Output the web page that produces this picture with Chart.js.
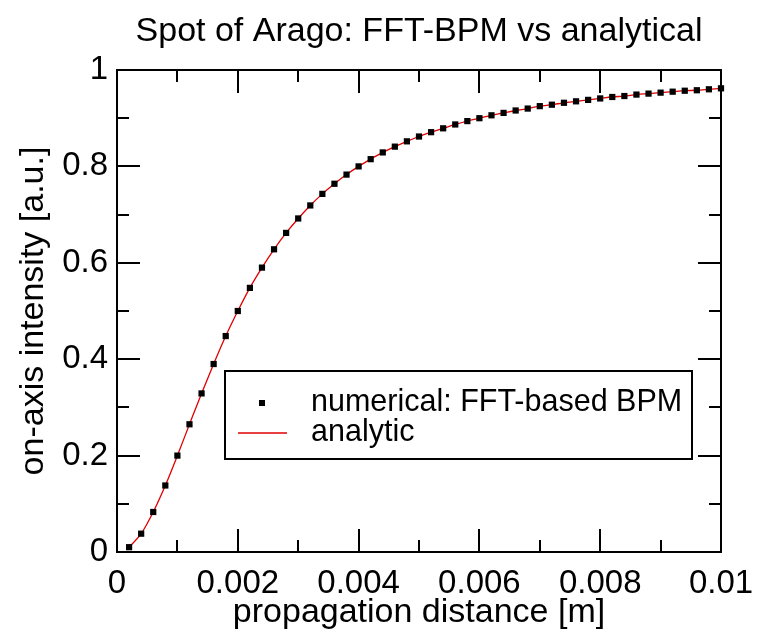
<!DOCTYPE html>
<html lang="en">
<head>
    <meta charset="UTF-8">
    <title>Spot of Arago</title>
    <script src="https://cdn.jsdelivr.net/npm/chart.js"></script>
    <style>
        html, body { margin: 0; padding: 0; background: #fff; }
        #wrap { width: 757px; height: 633px; }
    </style>
</head>
<body>
<div id="wrap"><canvas id="aragoChart" width="757" height="633"></canvas></div>
<script>
// propagation distance [m]
const distance = [
    0.0002, 0.0004, 0.0006, 0.0008, 0.0010, 0.0012, 0.0014, 0.0016, 0.0018, 0.0020,
    0.0022, 0.0024, 0.0026, 0.0028, 0.0030, 0.0032, 0.0034, 0.0036, 0.0038, 0.0040,
    0.0042, 0.0044, 0.0046, 0.0048, 0.0050, 0.0052, 0.0054, 0.0056, 0.0058, 0.0060,
    0.0062, 0.0064, 0.0066, 0.0068, 0.0070, 0.0072, 0.0074, 0.0076, 0.0078, 0.0080,
    0.0082, 0.0084, 0.0086, 0.0088, 0.0090, 0.0092, 0.0094, 0.0096, 0.0098, 0.0100
];
// numerical: FFT-based BPM
const numerical = [
    0.010, 0.038, 0.083, 0.138, 0.200, 0.265, 0.329, 0.390, 0.448, 0.500,
    0.548, 0.590, 0.628, 0.662, 0.692, 0.719, 0.743, 0.764, 0.783, 0.800,
    0.815, 0.829, 0.841, 0.852, 0.862, 0.871, 0.879, 0.887, 0.894, 0.900,
    0.906, 0.911, 0.916, 0.920, 0.925, 0.928, 0.932, 0.935, 0.938, 0.941,
    0.944, 0.946, 0.949, 0.951, 0.953, 0.955, 0.957, 0.958, 0.960, 0.962
];
// analytic
const analytic = [
    0.010, 0.038, 0.083, 0.138, 0.200, 0.265, 0.329, 0.390, 0.448, 0.500,
    0.548, 0.590, 0.628, 0.662, 0.692, 0.719, 0.743, 0.764, 0.783, 0.800,
    0.815, 0.829, 0.841, 0.852, 0.862, 0.871, 0.879, 0.887, 0.894, 0.900,
    0.906, 0.911, 0.916, 0.920, 0.925, 0.928, 0.932, 0.935, 0.938, 0.941,
    0.944, 0.946, 0.949, 0.951, 0.953, 0.955, 0.957, 0.958, 0.960, 0.962
];
const seriesNames = ['numerical: FFT-based BPM', 'analytic'];
const chartTitle = 'Spot of Arago: FFT-BPM vs analytical';

const FONT = '"Liberation Sans", Arial, Helvetica, sans-serif';

// title over the plot, frame + inward ticks on all four sides, legend box inside the plot
const frameAndLegend = {
    id: 'frameAndLegend',
    afterDraw(chart) {
        const ctx = chart.ctx;
        const a = chart.chartArea;
        const xs = chart.scales.x, ys = chart.scales.y;
        ctx.save();

        ctx.fillStyle = '#000';
        ctx.font = '34px ' + FONT;
        ctx.textAlign = 'center';
        ctx.textBaseline = 'middle';
        ctx.fillText(chartTitle, (a.left + a.right) / 2, 32);

        ctx.strokeStyle = '#000';
        ctx.lineWidth = 2;
        ctx.strokeRect(a.left, a.top, a.right - a.left, a.bottom - a.top);

        ctx.beginPath();
        xs.ticks.forEach(t => {
            const px = Math.round(xs.getPixelForValue(t.value));
            const len = t.label ? 23 : 12;
            ctx.moveTo(px, a.bottom); ctx.lineTo(px, a.bottom - len);
            ctx.moveTo(px, a.top); ctx.lineTo(px, a.top + len);
        });
        ys.ticks.forEach(t => {
            const py = Math.round(ys.getPixelForValue(t.value));
            const len = t.label ? 23 : 12;
            ctx.moveTo(a.left, py); ctx.lineTo(a.left + len, py);
            ctx.moveTo(a.right, py); ctx.lineTo(a.right - len, py);
        });
        ctx.stroke();

        // legend
        const lx = 225, ly = 371, lw = 467, lh = 88;
        ctx.strokeRect(lx, ly, lw, lh);
        ctx.fillRect(259, 400, 6, 6);
        ctx.strokeStyle = '#e00000';
        ctx.lineWidth = 1.3;
        ctx.beginPath();
        ctx.moveTo(238, 433); ctx.lineTo(287, 433);
        ctx.stroke();
        ctx.font = '30.5px ' + FONT;
        ctx.textAlign = 'left';
        ctx.fillText(chart.data.datasets[0].label, 311, 403);
        ctx.fillText(chart.data.datasets[1].label, 311, 433);
        ctx.restore();
    }
};

new Chart(document.getElementById('aragoChart'), {
    type: 'scatter',
    data: {
        datasets: [
            {
                label: seriesNames[0],
                data: distance.map((d, i) => ({ x: d, y: numerical[i] })),
                showLine: false,
                pointStyle: 'rect',
                pointRadius: 4.4,
                pointBorderWidth: 0,
                backgroundColor: '#000',
                borderColor: '#000',
                clip: false
            },
            {
                label: seriesNames[1],
                data: distance.map((d, i) => ({ x: d, y: analytic[i] })),
                showLine: true,
                pointRadius: 0,
                borderColor: '#e00000',
                borderWidth: 1.3,
                cubicInterpolationMode: 'monotone',
                clip: false
            }
        ]
    },
    options: {
        responsive: false,
        animation: false,
        layout: { padding: { left: 0, right: 36, top: 70, bottom: 0 } },
        plugins: {
            legend: { display: false },
            tooltip: { enabled: false },
            title: { display: false }
        },
        scales: {
            x: {
                type: 'linear',
                min: 0,
                max: 0.01,
                grid: { display: false, drawTicks: false },
                border: { display: false },
                ticks: {
                    stepSize: 0.001,
                    color: '#000',
                    padding: 12,
                    maxRotation: 0,
                    autoSkip: false,
                    font: { family: FONT, size: 33 },
                    callback: v => (Math.round(v * 1000) % 2 === 0) ? String(+v.toFixed(3)) : ''
                },
                title: {
                    display: true,
                    text: 'propagation distance [m]',
                    color: '#000',
                    font: { family: FONT, size: 34, lineHeight: 1.2 },
                    padding: 0
                },
                afterFit: s => { s.height = 81; s.paddingLeft = 0; s.paddingRight = 0; }
            },
            y: {
                type: 'linear',
                min: 0,
                max: 1,
                grid: { display: false, drawTicks: false },
                border: { display: false },
                ticks: {
                    stepSize: 0.1,
                    color: '#000',
                    padding: 9,
                    autoSkip: false,
                    font: { family: FONT, size: 33 },
                    callback: v => (Math.round(v * 10) % 2 === 0) ? String(+v.toFixed(1)) : ''
                },
                title: {
                    display: true,
                    text: 'on-axis intensity [a.u.]',
                    color: '#000',
                    font: { family: FONT, size: 34, lineHeight: 1.2 },
                    padding: { top: 13, bottom: 0 }
                },
                afterFit: s => { s.width = 117; s.paddingTop = 0; s.paddingBottom = 0; }
            }
        }
    },
    plugins: [frameAndLegend]
});
</script>
</body>
</html>
